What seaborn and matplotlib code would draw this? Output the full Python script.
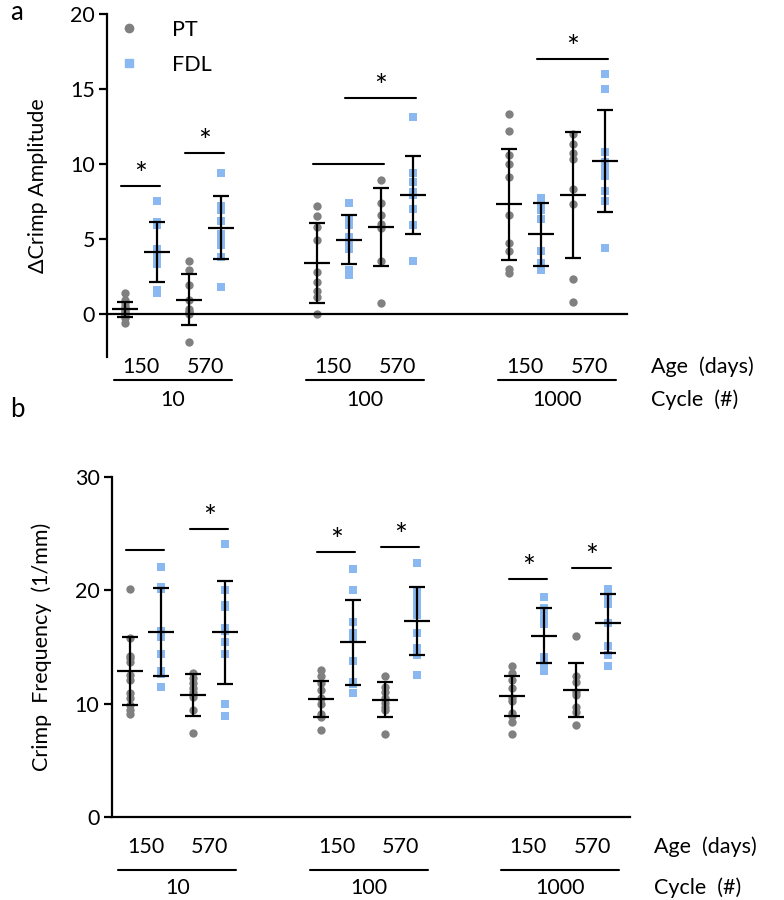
import numpy as np
import pandas as pd
import seaborn as sns
import matplotlib.pyplot as plt
from matplotlib.lines import Line2D

cycles = ['10', '100', '1000']
ages = ['150', '570']
tissues = ['PT', 'FDL']
colors = {'PT': '#808080', 'FDL': '#8ab8f0'}

# groups in order: 10/150, 10/570, 100/150, 100/570, 1000/150, 1000/570
amp_pt = [
    [1.4, 0.9, 0.7, 0.5, 0.4, 0.3, 0.2, 0.1, 0.0, -0.1, -0.3, -0.6],
    [3.5, 2.9, 1.9, 0.9, 0.3, 0.1, 0.1, 0.0, -1.85],
    [7.2, 6.5, 5.8, 4.9, 2.8, 2.1, 1.5, 1.1, 0.0],
    [8.9, 7.4, 6.6, 6.0, 5.7, 3.5, 0.7],
    [13.3, 12.2, 10.6, 10.0, 9.1, 6.6, 4.7, 4.2, 3.0, 2.7],
    [12.0, 11.3, 10.7, 10.3, 8.3, 7.3, 2.3, 0.8],
]
amp_fdl = [
    [7.5, 6.1, 5.9, 4.3, 4.0, 3.6, 3.3, 1.6, 1.4],
    [9.4, 7.2, 7.0, 6.9, 6.2, 5.3, 5.0, 4.6, 3.8, 1.8],
    [7.4, 6.4, 5.9, 5.1, 4.7, 4.3, 2.9, 2.6],
    [13.1, 9.4, 8.8, 8.1, 7.9, 7.0, 5.9, 3.5],
    [7.7, 7.3, 6.9, 6.3, 4.2, 3.4, 2.9],
    [16.0, 15.0, 10.8, 10.1, 9.7, 9.2, 8.2, 7.5, 4.4],
]
amp_pt_mean = [0.3, 0.95, 3.4, 5.8, 7.3, 7.9]
amp_pt_sd = [0.5, 1.7, 2.65, 2.6, 3.7, 4.2]
amp_fdl_mean = [4.15, 5.75, 4.95, 7.9, 5.3, 10.2]
amp_fdl_sd = [2.0, 2.1, 1.65, 2.6, 2.1, 3.4]

freq_pt = [
    [20.1, 15.8, 14.2, 14.0, 13.7, 12.5, 12.1, 10.9, 10.5, 9.9, 9.4, 9.1],
    [12.7, 12.3, 11.8, 11.4, 11.0, 10.6, 9.4, 7.4],
    [13.0, 12.4, 11.8, 11.2, 10.5, 10.0, 9.1, 8.8, 7.7],
    [12.4, 11.5, 11.0, 10.5, 10.1, 9.7, 9.4, 7.3],
    [13.3, 12.7, 12.1, 11.4, 10.5, 10.2, 9.2, 8.9, 8.4, 7.3],
    [16.0, 12.4, 11.9, 11.0, 10.8, 9.7, 9.3, 8.1],
]
freq_fdl = [
    [22.1, 20.3, 20.1, 16.4, 15.9, 14.4, 12.9, 12.6, 11.5],
    [24.1, 20.0, 18.7, 18.5, 16.7, 16.4, 15.4, 14.4, 10.0, 8.9],
    [21.9, 20.0, 17.2, 16.2, 15.9, 13.8, 11.9, 11.7, 10.9],
    [22.4, 19.9, 19.2, 18.5, 17.8, 16.2, 14.9, 14.3, 12.5],
    [19.4, 18.4, 17.7, 17.0, 14.1, 13.5, 12.9],
    [20.1, 19.5, 18.8, 17.1, 15.1, 14.3, 13.3],
]
freq_pt_mean = [12.9, 10.8, 10.4, 10.35, 10.7, 11.2]
freq_pt_sd = [3.0, 1.85, 1.6, 1.55, 1.75, 2.4]
freq_fdl_mean = [16.3, 16.3, 15.4, 17.3, 16.0, 17.1]
freq_fdl_sd = [3.9, 4.55, 3.75, 3.0, 2.45, 2.6]

# significance lines: (left slot, right slot, height, star)
amp_bars = [(0, 1, 8.5, True), (2, 3, 10.7, True), (6, 8, 10.0, False),
            (7, 9, 14.4, True), (13, 15, 17.0, True)]
freq_bars = [(0, 1, 23.6, False), (2, 3, 25.4, True), (6, 7, 23.4, True),
             (8, 9, 23.85, True), (12, 13, 21.0, True), (14, 15, 21.95, True)]

sns.set_style('ticks')
plt.rcParams['font.family'] = ['Lato', 'DejaVu Sans']
for key in ['text.color', 'axes.labelcolor', 'xtick.color', 'ytick.color', 'axes.edgecolor']:
    plt.rcParams[key] = 'black'
FS = 15.5


def slot(g, t):
    return 6 * (g // 2) + 2 * (g % 2) + t


def long_table(pt, fdl):
    rows = []
    for g in range(6):
        for t, vals in enumerate([pt[g], fdl[g]]):
            for v in vals:
                rows.append({'slot': slot(g, t), 'tissue': tissues[t], 'value': v})
    return pd.DataFrame(rows)


def draw_panel(ax, pt, fdl, pt_mean, pt_sd, fdl_mean, fdl_sd, bars, ylim, yticks):
    df = long_table(pt, fdl)
    for t, mk in zip(tissues, ['o', 's']):
        sns.stripplot(data=df[df.tissue == t], x='slot', y='value', native_scale=True,
                      jitter=False, color=colors[t], marker=mk, size=6, linewidth=0,
                      ax=ax, zorder=2)
    for t, (m, s) in enumerate([(pt_mean, pt_sd), (fdl_mean, fdl_sd)]):
        xs = [slot(g, t) for g in range(6)]
        ax.errorbar(xs, m, yerr=s, fmt='_', color='black', ms=19, mew=1.6,
                    elinewidth=1.6, capsize=6, capthick=1.6, zorder=5)
    for a, b, h, star in bars:
        ax.plot([a - 0.12, b + 0.08], [h, h], color='black', lw=1.5, clip_on=False)
        if star:
            ax.text((a + b) / 2, h - 0.2 * (ylim[1] - ylim[0]) / 23, '*', ha='center',
                    va='bottom', fontsize=22)
    ax.set_xlim(-0.55, 15.7)
    ax.set_ylim(*ylim)
    ax.set_yticks(yticks)
    ax.set_xticks([])
    ax.set_xlabel('')
    sns.despine(ax=ax)
    ax.spines['left'].set_linewidth(1.6)
    ax.spines['bottom'].set_linewidth(1.6)
    ax.tick_params(axis='y', length=6, width=1.6, labelsize=FS, pad=3)


def group_labels(ax, y_age, y_line, y_cycle):
    tr = ax.get_xaxis_transform()
    for c in range(3):
        for a in range(2):
            ax.text(6 * c + 2 * a + 0.5, y_age, ages[a], transform=tr, ha='center',
                    va='center', fontsize=FS)
        ax.plot([6 * c + 1.5 - 1.85, 6 * c + 1.5 + 1.85], [y_line, y_line], transform=tr,
                color='black', lw=1.5, clip_on=False)
        ax.text(6 * c + 1.5, y_cycle, cycles[c], transform=tr, ha='center', va='center',
                fontsize=FS)
    ax.text(16.45, y_age, 'Age  (days)', transform=tr, ha='left', va='center', fontsize=FS)
    ax.text(16.45, y_cycle, 'Cycle  (#)', transform=tr, ha='left', va='center', fontsize=FS)


fig = plt.figure(figsize=(7.84, 9), dpi=100)
ax_a = fig.add_axes([107.4 / 784, 1 - 357.5 / 900, 520 / 784, 343.5 / 900])
ax_b = fig.add_axes([112 / 784, 83 / 900, 518.4 / 784, 340 / 900])

draw_panel(ax_a, amp_pt, amp_fdl, amp_pt_mean, amp_pt_sd, amp_fdl_mean, amp_fdl_sd,
           amp_bars, (-2.9, 20), [0, 5, 10, 15, 20])
ax_a.spines['bottom'].set_position(('data', 0))
ax_a.set_ylabel('ΔCrimp Amplitude', fontsize=FS)
ax_a.yaxis.set_label_coords(-0.115, 0.5)
group_labels(ax_a, -0.028, -0.0655, -0.124)

draw_panel(ax_b, freq_pt, freq_fdl, freq_pt_mean, freq_pt_sd, freq_fdl_mean, freq_fdl_sd,
           freq_bars, (0, 30), [0, 10, 20, 30])
ax_b.set_ylabel('Crimp  Frequency  (1/mm)', fontsize=FS)
ax_b.yaxis.set_label_coords(-0.115, 0.5)
group_labels(ax_b, -0.088, -0.156, -0.209)

handles = [Line2D([], [], marker='o', ls='', color=colors['PT'], ms=6),
           Line2D([], [], marker='s', ls='', color=colors['FDL'], ms=6)]
ax_a.legend(handles, tissues, frameon=False, loc='upper left', bbox_to_anchor=(-0.017, 1.04),
            fontsize=FS, handlelength=1.0, handletextpad=1.5, labelspacing=0.7)

fig.text(10 / 784, 1 - 12 / 900, 'a', fontsize=FS + 3, va='center', ha='left')
fig.text(10 / 784, 1 - 410 / 900, 'b', fontsize=FS + 3, va='center', ha='left')

fig.savefig('out.png', dpi=100)
